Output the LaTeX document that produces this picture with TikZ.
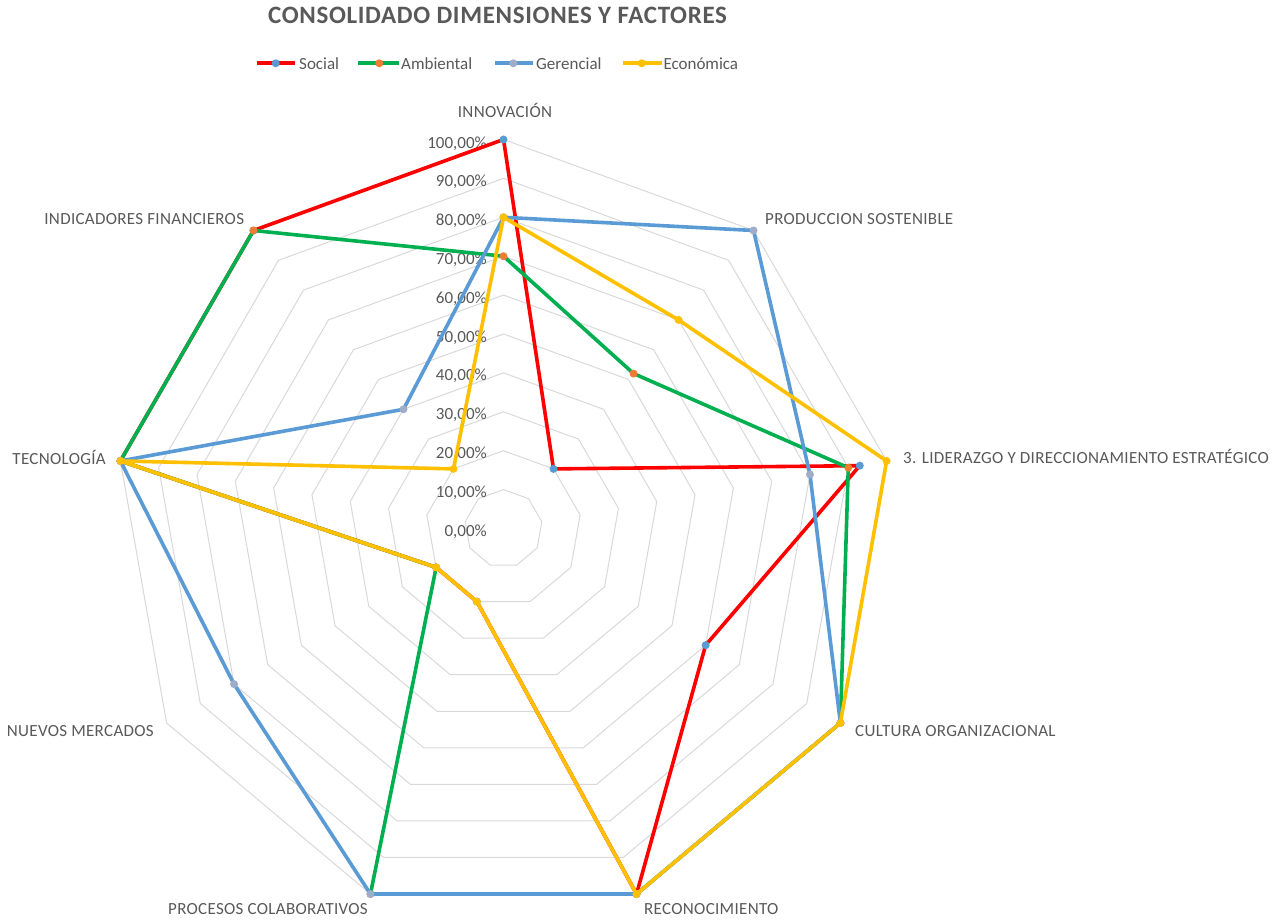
\documentclass[tikz,border=0pt]{standalone}
\usepackage{fontspec}
\setmainfont{Carlito}
\usetikzlibrary{calc}
\definecolor{txt}{HTML}{595959}
\definecolor{gridc}{HTML}{D9D9D9}
\definecolor{socl}{HTML}{FF0000}
\definecolor{socm}{HTML}{5B9BD5}
\definecolor{ambl}{HTML}{00B050}
\definecolor{ambm}{HTML}{ED7D31}
\definecolor{gerl}{HTML}{5B9BD5}
\definecolor{germ}{HTML}{A0ACC8}
\definecolor{ecol}{HTML}{FFC000}
\definecolor{ecom}{HTML}{FFC000}
\begin{document}
\begin{tikzpicture}[x=1pt,y=1pt,
  gridline/.style={draw=gridc,line width=1pt},
  serie/.style={line width=3.6pt,line join=round,line cap=round},
  lbl/.style={font=\fontsize{17}{20}\selectfont,text=txt,inner sep=0pt,text height=10.9pt,text depth=0pt},
  axlbl/.style={lbl,font=\fontsize{17}{20}\selectfont\addfontfeature{LetterSpace=1.8}},
  titlestyle/.style={font=\fontsize{25}{30}\selectfont\bfseries\addfontfeature{LetterSpace=2.7},text=txt,inner sep=0pt,text height=16pt,text depth=0pt}]
\useasboundingbox (0,0) rectangle (1287,920);
\fill[white] (0,0) rectangle (1287,920);
\coordinate (O) at (503.5,391.5);
\def\R{389}
% grid polygons
\foreach \i in {1,...,10}{
  \draw[gridline] ($(O)+(90:{\i*\R/10})$) \foreach \k in {1,...,8}{ -- ($(O)+({90-40*\k}:{\i*\R/10})$) } -- cycle;
}
% tick labels
\foreach \i/\t in {0/0,1/10,2/20,3/30,4/40,5/50,6/60,7/70,8/80,9/90,10/100}{
  \node[lbl,anchor=east] (t\i) at (487,{389.3+38.8*\i}) {\t,00\%};
}
% axis labels
\node[axlbl] (a0) at (505,808) {INNOVACIÓN};
\node[axlbl,anchor=west] (a1) at (765,701) {PRODUCCION SOSTENIBLE};
\node[axlbl,anchor=west] (a2) at (903,461.7) {3. LIDERAZGO Y DIRECCIONAMIENTO ESTRATÉGICO};
\node[axlbl,anchor=west] (a3) at (855,189.3) {CULTURA ORGANIZACIONAL};
\node[axlbl,anchor=west] (a4) at (644,11) {RECONOCIMIENTO};
\node[axlbl,anchor=east] (a5) at (368,11) {PROCESOS COLABORATIVOS};
\node[axlbl,anchor=east] (a6) at (154,189) {NUEVOS MERCADOS};
\node[axlbl,anchor=east] (a7) at (106,461) {TECNOLOGÍA};
\node[axlbl,anchor=east] (a8) at (244.3,700.7) {INDICADORES FINANCIEROS};
% data coordinates
\foreach \v [count=\k from 0] in {100,20,93,60,100,20,20,100,100}{
  \coordinate (S\k) at ($(O)+({90-40*\k}:{\v/100*\R})$);}
\foreach \v [count=\k from 0] in {70,52,90,100,100,100,20,100,100}{
  \coordinate (A\k) at ($(O)+({90-40*\k}:{\v/100*\R})$);}
\foreach \v [count=\k from 0] in {80,100,80,100,100,100,80,100,40}{
  \coordinate (G\k) at ($(O)+({90-40*\k}:{\v/100*\R})$);}
\foreach \v [count=\k from 0] in {80,70,100,100,100,20,20,100,20}{
  \coordinate (C\k) at ($(O)+({90-40*\k}:{\v/100*\R})$);}
% Social
\draw[serie,socl] (S0) -- (S1) -- (S2) -- (S3) -- (S4) -- (S5) -- (S6) -- (S7) -- (S8) -- cycle;
\foreach \k in {0,...,8}{\fill[socm] (S\k) circle (4);}
% Ambiental
\draw[serie,ambl] (A0) -- (A1) -- (A2) -- (A3) -- (A4) -- (A5) -- (A6) -- (A7) -- (A8) -- cycle;
\foreach \k in {0,...,8}{\fill[ambm] (A\k) circle (4);}
% Gerencial
\draw[serie,gerl] (G0) -- (G1) -- (G2) -- (G3) -- (G4) -- (G5) -- (G6) -- (G7) -- (G8) -- cycle;
\foreach \k in {0,...,8}{\fill[germ] (G\k) circle (4);}
% Economica
\draw[serie,ecol] (C0) -- (C1) -- (C2) -- (C3) -- (C4) -- (C5) -- (C6) -- (C7) -- (C8) -- cycle;
\foreach \k in {0,...,8}{\fill[ecom] (C\k) circle (4);}
% title
\node[titlestyle] (title) at (497.5,904.7) {CONSOLIDADO DIMENSIONES Y FACTORES};
% legend
\coordinate (l1a) at (256.7,856.7); \coordinate (l1b) at (295,856.7); \coordinate (l1m) at (275.7,856.7);
\coordinate (l2a) at (358.3,856.7); \coordinate (l2b) at (399.3,856.7); \coordinate (l2m) at (379.3,856.7);
\coordinate (l3a) at (495,856.7); \coordinate (l3b) at (533.3,856.7); \coordinate (l3m) at (513.3,856.7);
\coordinate (l4a) at (623.3,856.7); \coordinate (l4b) at (661.7,856.7); \coordinate (l4m) at (641.7,856.7);
\draw[line width=3.6pt,socl] (l1a) -- (l1b); \fill[socm] (l1m) circle (4);
\draw[line width=3.6pt,ambl] (l2a) -- (l2b); \fill[ambm] (l2m) circle (4);
\draw[line width=3.6pt,gerl] (l3a) -- (l3b); \fill[germ] (l3m) circle (4);
\draw[line width=3.6pt,ecol] (l4a) -- (l4b); \fill[ecom] (l4m) circle (4);
\node[lbl,anchor=west] (lg1) at (299,856) {Social};
\node[lbl,anchor=west] (lg2) at (401,856) {Ambiental};
\node[lbl,anchor=west] (lg3) at (536,856) {Gerencial};
\node[lbl,anchor=west] (lg4) at (663.3,856) {Económica};
\end{tikzpicture}
\end{document}
